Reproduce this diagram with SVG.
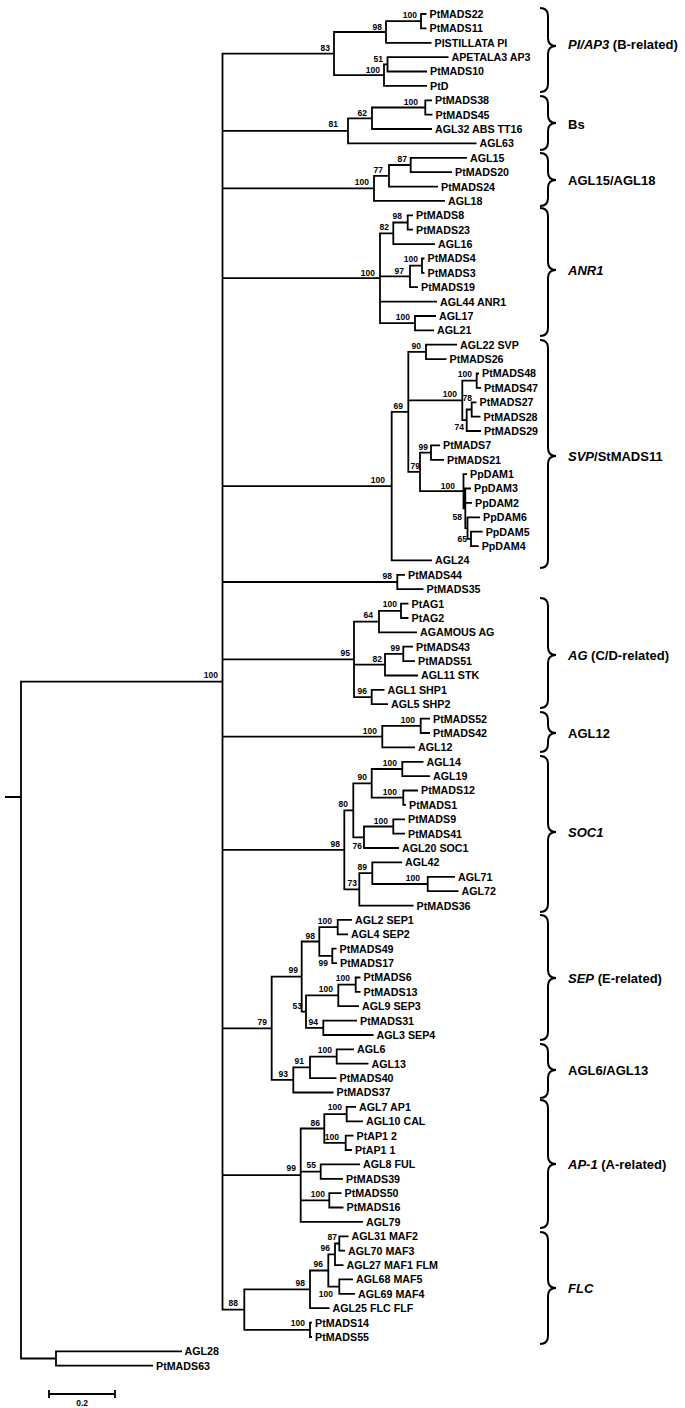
<svg xmlns="http://www.w3.org/2000/svg" width="685" height="1408" viewBox="0 0 685 1408">
<style>
.br{fill:none;stroke:#000;stroke-width:1.8}
.bc{fill:none;stroke:#000;stroke-width:2}
.lf{font-family:"Liberation Sans",Arial,sans-serif;font-weight:bold;font-size:10.7px;fill:#000}
.bs{font-family:"Liberation Sans",Arial,sans-serif;font-weight:bold;font-size:8.5px;fill:#000;text-anchor:end}
.cl{font-family:"Liberation Sans",Arial,sans-serif;font-weight:bold;font-size:13px;fill:#000}
.it{font-style:italic}
</style>
<rect width="685" height="1408" fill="#fff"/>
<g id="connectors" class="br">
<path d="M5,797 H21 M222.5,681.6 H21 V1358.5 H56 M182,1351.3 H56 V1365.7 H153"/>
<path d="M334,53.6 H222.5 V1309.6 H244.3 M222.5,130.8 H348 M222.5,188.4 H374 M222.5,278.2 H380 M222.5,486.2 H391.7 M222.5,582 H397.3 M222.5,659.4 H354 M222.5,736.6 H382.3 M222.5,849.9 H344.3 M222.5,1028.3 H271.7 M222.5,1175.1 H300.7"/>
<path d="M386,32 H334 V75.2 H384 M421,21.2 H386 V42.8 H431.5 M426.5,14 H421 V28.4 H426.5 M387.5,64.3 H384 V85.9 H427 M448.5,57.1 H387.5 V71.5 H427"/>
<path d="M372,118.3 H348 V143.4 H476.5 M425.3,107.5 H372 V129 H432 M432,100.3 H425.3 V114.7 H432.5"/>
<path d="M389,175.8 H374 V200.9 H445 M410.7,165 H389 V186.6 H438 M467,157.8 H410.7 V172.2 H452"/>
<path d="M393.3,233.3 H380 V323.2 H415 M380,276.4 H410 M380,301.6 H437 M407.7,222.5 H393.3 V244.1 H435 M413,215.3 H407.7 V229.7 H413 M422,265.7 H410 V287.2 H418 M424.5,258.5 H422 V272.8 H424.5 M436,316 H415 V330.4 H434"/>
<path d="M408.3,411.9 H391.7 V560.4 H432 M426,351.9 H408.3 V471.9 H420 M408.3,400.4 H462.3 M457,344.7 H426 V359.1 H446.5 M476.7,380.7 H462.3 V420.2 H466.7 M479,373.5 H476.7 V387.9 H481 M471.7,409.5 H466.7 V431 H481 M476.5,402.3 H471.7 V416.6 H480.5 M431,452.6 H420 V491.2 H463.5 M440,445.4 H431 V459.8 H444 M467,474.2 H463.5 V508.3 H465.3 M471,488.5 H465.3 V528.1 H467.5 M465.3,502.9 H472 M480,517.3 H467.5 V538.9 H471 M482.7,531.7 H471 V546.1 H478.7"/>
<path d="M405,574.8 H397.3 V589.2 H423.5"/>
<path d="M379,621.6 H354 V697.1 H371.7 M354,664.7 H385 M401,610.8 H379 V632.3 H417 M408.5,603.6 H401 V618 H408.5 M403.3,653.9 H385 V675.5 H418 M413,646.7 H403.3 V661.1 H415 M384.5,689.9 H371.7 V704.2 H388"/>
<path d="M420.7,725.8 H382.3 V747.4 H415 M430,718.6 H420.7 V733 H430"/>
<path d="M353.3,810.3 H344.3 V889.4 H359.3 M371.7,783.4 H353.3 V837.3 H364 M402.3,769 H371.7 V797.7 H403.3 M423.5,761.8 H402.3 V776.1 H430 M418,790.5 H403.3 V804.9 H406 M393.3,826.5 H364 V848 H399 M405,819.3 H393.3 V833.7 H405 M372.3,873.2 H359.3 V905.6 H413.5 M402,862.4 H372.3 V884 H427.7 M455,876.8 H427.7 V891.2 H458.5"/>
<path d="M301.7,976.6 H271.7 V1079.9 H293.3 M319.3,941.5 H301.7 V1011.6 H306 M337.7,927.1 H319.3 V955.9 H332.3 M352,919.9 H337.7 V934.3 H348 M336.5,948.7 H332.3 V963.1 H337 M338.3,995.4 H306 V1027.8 H323.3 M355.7,984.7 H338.3 V1006.2 H359 M360.5,977.5 H355.7 V991.8 H360.5 M357,1020.6 H323.3 V1035 H373.5 M310,1067.3 H293.3 V1092.5 H333.5 M336.7,1056.6 H310 V1078.1 H336.5 M354,1049.4 H336.7 V1063.7 H368.5"/>
<path d="M324.3,1128.5 H300.7 V1221.9 H363 M300.7,1171.6 H320.7 M300.7,1200.4 H329.3 M346.7,1114.1 H324.3 V1142.8 H345.7 M356,1106.9 H346.7 V1121.3 H363 M353.5,1135.6 H345.7 V1150 H352 M360,1164.4 H320.7 V1178.8 H343 M341.5,1193.2 H329.3 V1207.5 H343.5"/>
<path d="M310,1289.3 H244.3 V1329.8 H310 M328.3,1270.5 H310 V1308.2 H329.5 M335,1254.3 H328.3 V1286.6 H339.3 M339.3,1243.5 H335 V1265.1 H343.5 M348.5,1236.3 H339.3 V1250.7 H345 M353,1279.4 H339.3 V1293.8 H355 M312,1322.6 H310 V1337 H312"/>
<path d="M49,1394 H115 M49,1390 V1398 M115,1390 V1398"/>
</g>
<g id="bootstrap">
<text class="bs" x="417" y="18">100</text><text class="bs" x="382" y="30">98</text><text class="bs" x="330" y="51">83</text><text class="bs" x="383" y="62">51</text><text class="bs" x="380" y="73">100</text>
<text class="bs" x="418" y="105">100</text><text class="bs" x="367" y="116">62</text><text class="bs" x="338" y="127">81</text>
<text class="bs" x="407" y="162">87</text><text class="bs" x="383" y="173">77</text><text class="bs" x="369" y="185">100</text>
<text class="bs" x="402" y="219">98</text><text class="bs" x="389" y="230">82</text><text class="bs" x="418" y="262">100</text><text class="bs" x="404" y="274">97</text><text class="bs" x="375" y="276">100</text><text class="bs" x="410" y="320">100</text>
<text class="bs" x="421" y="349">90</text><text class="bs" x="472" y="377">100</text><text class="bs" x="457" y="397">100</text><text class="bs" x="472" y="401">78</text><text class="bs" x="403" y="409">69</text><text class="bs" x="464" y="430">74</text><text class="bs" x="428" y="450">99</text><text class="bs" x="420" y="469">79</text><text class="bs" x="385" y="483">100</text><text class="bs" x="455" y="489">100</text><text class="bs" x="462" y="520">58</text><text class="bs" x="467" y="542">65</text>
<text class="bs" x="392" y="579">98</text>
<text class="bs" x="397" y="607">100</text><text class="bs" x="373" y="618">64</text><text class="bs" x="400" y="651">99</text><text class="bs" x="350" y="656">95</text><text class="bs" x="382" y="662">82</text><text class="bs" x="218" y="678">100</text><text class="bs" x="367" y="694">96</text>
<text class="bs" x="415" y="723">100</text><text class="bs" x="377" y="734">100</text>
<text class="bs" x="397" y="766">100</text><text class="bs" x="367" y="780">90</text><text class="bs" x="397" y="795">100</text><text class="bs" x="348" y="807">80</text><text class="bs" x="388" y="824">100</text><text class="bs" x="340" y="847">98</text><text class="bs" x="362" y="849">76</text><text class="bs" x="367" y="870">89</text><text class="bs" x="420" y="881">100</text><text class="bs" x="357" y="886">73</text>
<text class="bs" x="332" y="924">100</text><text class="bs" x="315" y="939">98</text><text class="bs" x="328" y="966">99</text><text class="bs" x="298" y="973">99</text><text class="bs" x="350" y="981">100</text><text class="bs" x="333" y="992">100</text><text class="bs" x="302" y="1009">53</text><text class="bs" x="318" y="1025">94</text><text class="bs" x="267" y="1025">79</text>
<text class="bs" x="332" y="1053">100</text><text class="bs" x="304" y="1064">91</text><text class="bs" x="288" y="1077">93</text>
<text class="bs" x="342" y="1110">100</text><text class="bs" x="320" y="1126">86</text><text class="bs" x="339" y="1140">100</text><text class="bs" x="316" y="1168">55</text><text class="bs" x="296" y="1171">99</text><text class="bs" x="325" y="1197">100</text>
<text class="bs" x="337" y="1240">87</text><text class="bs" x="330" y="1251">96</text><text class="bs" x="323" y="1267">96</text><text class="bs" x="305" y="1286">98</text><text class="bs" x="333" y="1297">100</text><text class="bs" x="238" y="1306">88</text><text class="bs" x="305" y="1326">100</text>
<text class="bs" x="88" y="1406">0.2</text>
</g>
<g id="leaves" class="lf">
<g id="n1"><text x="429.5" y="17.9">PtMADS22</text></g>
<g id="n2"><text x="429.5" y="32.3">PtMADS11</text></g>
<g id="n3"><text x="434.5" y="46.7">PISTILLATA PI</text></g>
<g id="n4"><text x="451.5" y="61">APETALA3 AP3</text></g>
<g id="n5"><text x="430" y="75.4">PtMADS10</text></g>
<g id="n6"><text x="430" y="89.8">PtD</text></g>
<g id="n7"><text x="435" y="104.2">PtMADS38</text></g>
<g id="n8"><text x="435.5" y="118.6">PtMADS45</text></g>
<g id="n9"><text x="435" y="132.9">AGL32 ABS TT16</text></g>
<g id="n10"><text x="479.5" y="147.3">AGL63</text></g>
<g id="n11"><text x="470" y="161.7">AGL15</text></g>
<g id="n12"><text x="455" y="176.1">PtMADS20</text></g>
<g id="n13"><text x="441" y="190.5">PtMADS24</text></g>
<g id="n14"><text x="448" y="204.8">AGL18</text></g>
<g id="n15"><text x="416" y="219.2">PtMADS8</text></g>
<g id="n16"><text x="416" y="233.6">PtMADS23</text></g>
<g id="n17"><text x="438" y="248">AGL16</text></g>
<g id="n18"><text x="427.5" y="262.4">PtMADS4</text></g>
<g id="n19"><text x="427.5" y="276.7">PtMADS3</text></g>
<g id="n20"><text x="421" y="291.1">PtMADS19</text></g>
<g id="n21"><text x="440" y="305.5">AGL44 ANR1</text></g>
<g id="n22"><text x="439" y="319.9">AGL17</text></g>
<g id="n23"><text x="437" y="334.3">AGL21</text></g>
<g id="n24"><text x="460" y="348.6">AGL22 SVP</text></g>
<g id="n25"><text x="449.5" y="363">PtMADS26</text></g>
<g id="n26"><text x="482" y="377.4">PtMADS48</text></g>
<g id="n27"><text x="484" y="391.8">PtMADS47</text></g>
<g id="n28"><text x="479.5" y="406.2">PtMADS27</text></g>
<g id="n29"><text x="483.5" y="420.5">PtMADS28</text></g>
<g id="n30"><text x="484" y="434.9">PtMADS29</text></g>
<g id="n31"><text x="443" y="449.3">PtMADS7</text></g>
<g id="n32"><text x="447" y="463.7">PtMADS21</text></g>
<g id="n33"><text x="470" y="478.1">PpDAM1</text></g>
<g id="n34"><text x="474" y="492.4">PpDAM3</text></g>
<g id="n35"><text x="475" y="506.8">PpDAM2</text></g>
<g id="n36"><text x="483" y="521.2">PpDAM6</text></g>
<g id="n37"><text x="485.7" y="535.6">PpDAM5</text></g>
<g id="n38"><text x="481.7" y="550">PpDAM4</text></g>
<g id="n39"><text x="435" y="564.3">AGL24</text></g>
<g id="n40"><text x="408" y="578.7">PtMADS44</text></g>
<g id="n41"><text x="426.5" y="593.1">PtMADS35</text></g>
<g id="n42"><text x="411.5" y="607.5">PtAG1</text></g>
<g id="n43"><text x="411.5" y="621.9">PtAG2</text></g>
<g id="n44"><text x="420" y="636.2">AGAMOUS AG</text></g>
<g id="n45"><text x="416" y="650.6">PtMADS43</text></g>
<g id="n46"><text x="418" y="665">PtMADS51</text></g>
<g id="n47"><text x="421" y="679.4">AGL11 STK</text></g>
<g id="n48"><text x="387.5" y="693.8">AGL1 SHP1</text></g>
<g id="n49"><text x="391" y="708.1">AGL5 SHP2</text></g>
<g id="n50"><text x="433" y="722.5">PtMADS52</text></g>
<g id="n51"><text x="433" y="736.9">PtMADS42</text></g>
<g id="n52"><text x="418" y="751.3">AGL12</text></g>
<g id="n53"><text x="426.5" y="765.7">AGL14</text></g>
<g id="n54"><text x="433" y="780">AGL19</text></g>
<g id="n55"><text x="421" y="794.4">PtMADS12</text></g>
<g id="n56"><text x="409" y="808.8">PtMADS1</text></g>
<g id="n57"><text x="408" y="823.2">PtMADS9</text></g>
<g id="n58"><text x="408" y="837.6">PtMADS41</text></g>
<g id="n59"><text x="402" y="851.9">AGL20 SOC1</text></g>
<g id="n60"><text x="405" y="866.3">AGL42</text></g>
<g id="n61"><text x="458" y="880.7">AGL71</text></g>
<g id="n62"><text x="461.5" y="895.1">AGL72</text></g>
<g id="n63"><text x="416.5" y="909.5">PtMADS36</text></g>
<g id="n64"><text x="355" y="923.8">AGL2 SEP1</text></g>
<g id="n65"><text x="351" y="938.2">AGL4 SEP2</text></g>
<g id="n66"><text x="339.5" y="952.6">PtMADS49</text></g>
<g id="n67"><text x="340" y="967">PtMADS17</text></g>
<g id="n68"><text x="363.5" y="981.4">PtMADS6</text></g>
<g id="n69"><text x="363.5" y="995.7">PtMADS13</text></g>
<g id="n70"><text x="362" y="1010.1">AGL9 SEP3</text></g>
<g id="n71"><text x="360" y="1024.5">PtMADS31</text></g>
<g id="n72"><text x="376.5" y="1038.9">AGL3 SEP4</text></g>
<g id="n73"><text x="357" y="1053.3">AGL6</text></g>
<g id="n74"><text x="371.5" y="1067.6">AGL13</text></g>
<g id="n75"><text x="339.5" y="1082">PtMADS40</text></g>
<g id="n76"><text x="336.5" y="1096.4">PtMADS37</text></g>
<g id="n77"><text x="359" y="1110.8">AGL7 AP1</text></g>
<g id="n78"><text x="366" y="1125.2">AGL10 CAL</text></g>
<g id="n79"><text x="356.5" y="1139.5">PtAP1 2</text></g>
<g id="n80"><text x="355" y="1153.9">PtAP1 1</text></g>
<g id="n81"><text x="363" y="1168.3">AGL8 FUL</text></g>
<g id="n82"><text x="346" y="1182.7">PtMADS39</text></g>
<g id="n83"><text x="344.5" y="1197.1">PtMADS50</text></g>
<g id="n84"><text x="346.5" y="1211.4">PtMADS16</text></g>
<g id="n85"><text x="366" y="1225.8">AGL79</text></g>
<g id="n86"><text x="351.5" y="1240.2">AGL31 MAF2</text></g>
<g id="n87"><text x="348" y="1254.6">AGL70 MAF3</text></g>
<g id="n88"><text x="346.5" y="1269">AGL27 MAF1 FLM</text></g>
<g id="n89"><text x="356" y="1283.3">AGL68 MAF5</text></g>
<g id="n90"><text x="358" y="1297.7">AGL69 MAF4</text></g>
<g id="n91"><text x="332.5" y="1312.1">AGL25 FLC FLF</text></g>
<g id="n92"><text x="315" y="1326.5">PtMADS14</text></g>
<g id="n93"><text x="315" y="1340.9">PtMADS55</text></g>
<g id="n94"><text x="184.5" y="1355.2">AGL28</text></g>
<g id="n95"><text x="156" y="1369.6">PtMADS63</text></g>
</g>
<g id="clades">
<g id="c1"><path class="bc" d="M540,8 Q548,8 548,16 V38 Q548,46 556,46 Q548,46 548,54 V84 Q548,92 540,92"/><text class="cl" x="568" y="49"><tspan class="it">PI/AP3</tspan> (B-related)</text></g>
<g id="c2"><path class="bc" d="M540,96 Q548,96 548,104 V115 Q548,123 556,123 Q548,123 548,131 V142 Q548,150 540,150"/><text class="cl" x="568" y="128.5">Bs</text></g>
<g id="c3"><path class="bc" d="M540,153 Q548,153 548,161 V172 Q548,180 556,180 Q548,180 548,188 V198 Q548,206 540,206"/><text class="cl" x="568" y="185">AGL15/AGL18</text></g>
<g id="c4"><path class="bc" d="M540,208 Q548,208 548,216 V262 Q548,270 556,270 Q548,270 548,278 V328 Q548,336 540,336"/><text class="cl it" x="568" y="275">ANR1</text></g>
<g id="c5"><path class="bc" d="M540,340 Q548,340 548,348 V448 Q548,456 556,456 Q548,456 548,464 V560 Q548,568 540,568"/><text class="cl" x="568" y="461"><tspan class="it">SVP</tspan>/StMADS11</text></g>
<g id="c6"><path class="bc" d="M540,598 Q548,598 548,606 V647 Q548,655 556,655 Q548,655 548,663 V700 Q548,708 540,708"/><text class="cl" x="568" y="660"><tspan class="it">AG</tspan> (C/D-related)</text></g>
<g id="c7"><path class="bc" d="M540,712 Q548,712 548,720 V725 Q548,733 556,733 Q548,733 548,741 V744 Q548,752 540,752"/><text class="cl" x="568" y="738">AGL12</text></g>
<g id="c8"><path class="bc" d="M540,756 Q548,756 548,764 V824 Q548,832 556,832 Q548,832 548,840 V904 Q548,912 540,912"/><text class="cl it" x="568" y="837">SOC1</text></g>
<g id="c9"><path class="bc" d="M540,915 Q548,915 548,923 V970 Q548,978 556,978 Q548,978 548,986 V1032 Q548,1040 540,1040"/><text class="cl" x="568" y="983"><tspan class="it">SEP</tspan> (E-related)</text></g>
<g id="c10"><path class="bc" d="M540,1044 Q548,1044 548,1052 V1062 Q548,1070 556,1070 Q548,1070 548,1078 V1090 Q548,1098 540,1098"/><text class="cl" x="568" y="1075">AGL6/AGL13</text></g>
<g id="c11"><path class="bc" d="M540,1100 Q548,1100 548,1108 V1156 Q548,1164 556,1164 Q548,1164 548,1172 V1220 Q548,1228 540,1228"/><text class="cl" x="568" y="1169"><tspan class="it">AP-1</tspan> (A-related)</text></g>
<g id="c12"><path class="bc" d="M540,1232 Q548,1232 548,1240 V1280 Q548,1288 556,1288 Q548,1288 548,1296 V1336 Q548,1344 540,1344"/><text class="cl it" x="568" y="1293">FLC</text></g>
</g>
</svg>
